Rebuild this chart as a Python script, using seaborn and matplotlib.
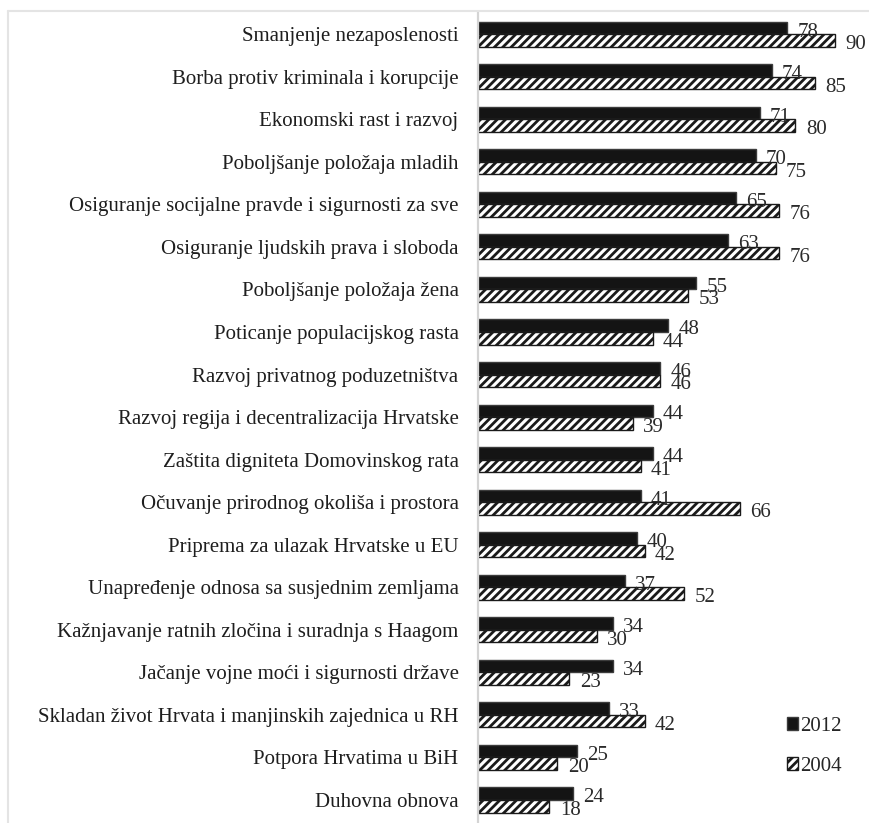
import matplotlib
matplotlib.use("Agg")
import matplotlib.pyplot as plt
from matplotlib.lines import Line2D
from matplotlib.patches import Patch
import pandas as pd
import seaborn as sns

# categories and values
categories = [
    "Smanjenje nezaposlenosti",
    "Borba protiv kriminala i korupcije",
    "Ekonomski rast i razvoj",
    "Poboljšanje položaja mladih",
    "Osiguranje socijalne pravde i sigurnosti za sve",
    "Osiguranje ljudskih prava i sloboda",
    "Poboljšanje položaja žena",
    "Poticanje populacijskog rasta",
    "Razvoj privatnog poduzetništva",
    "Razvoj regija i decentralizacija Hrvatske",
    "Zaštita digniteta Domovinskog rata",
    "Očuvanje prirodnog okoliša i prostora",
    "Priprema za ulazak Hrvatske u EU",
    "Unapređenje odnosa sa susjednim zemljama",
    "Kažnjavanje ratnih zločina i suradnja s Haagom",
    "Jačanje vojne moći i sigurnosti države",
    "Skladan život Hrvata i manjinskih zajednica u RH",
    "Potpora Hrvatima u BiH",
    "Duhovna obnova",
]
values_2012 = [78, 74, 71, 70, 65, 63, 55, 48, 46, 44, 44, 41, 40, 37, 34, 34, 33, 25, 24]
values_2004 = [90, 85, 80, 75, 76, 76, 53, 44, 46, 39, 41, 66, 42, 52, 30, 23, 42, 20, 18]
years = ["2012", "2004"]

df = pd.DataFrame({
    "kategorija": categories * 2,
    "vrijednost": values_2012 + values_2004,
    "godina": [years[0]] * len(categories) + [years[1]] * len(categories),
})

sns.set_style("white")
plt.rcParams["font.family"] = ["Liberation Serif", "DejaVu Serif"]
plt.rcParams["hatch.linewidth"] = 2.0

fig = plt.figure(figsize=(8.69, 8.23), dpi=100)
ax = fig.add_axes([478 / 869, 0.0, 1 - 478 / 869, 1 - 12 / 823])

sns.barplot(
    data=df, y="kategorija", x="vrijednost", hue="godina",
    hue_order=years, orient="h", width=0.59,
    palette={"2012": "#141414", "2004": "white"},
    edgecolor="#3c3c3c", linewidth=1.0, legend=False, ax=ax,
)

# hatch the 2004 bars
for bar in ax.containers[1]:
    bar.set_hatch("////")
    bar.set_edgecolor("#1a1a1a")

# value labels at bar ends
for cont, vals in zip(ax.containers, [values_2012, values_2004]):
    for bar, v in zip(cont, vals):
        ax.annotate(
            str(v), (bar.get_width(), bar.get_y() + bar.get_height() / 2),
            xytext=(7.5, -3.0), textcoords="offset points",
            va="center", ha="left", fontsize=15, color="#2a2a2a",
        )

ax.set_xlim(0, (869 - 478) / 3.967)
ax.set_ylim(len(categories) - 0.46, -0.52)
ax.set_xlabel("")
ax.set_ylabel("")
ax.set_xticks([])
ax.tick_params(axis="y", length=0, pad=14, labelsize=15, labelcolor="#1e1e1e")
for side in ["top", "right", "bottom"]:
    ax.spines[side].set_visible(False)
ax.spines["left"].set_color("#d4d4d4")
ax.spines["left"].set_linewidth(1.6)

handles = [
    Patch(facecolor="#141414", edgecolor="#3c3c3c", label="2012"),
    Patch(facecolor="white", edgecolor="#1a1a1a", hatch="////", label="2004"),
]
ax.legend(
    handles=handles, loc="upper left", bbox_to_anchor=(787 / 869, 1 - 717 / 823),
    bbox_transform=fig.transFigure, frameon=False, fontsize=15,
    handlelength=0.55, handleheight=0.55, handletextpad=0.1, labelspacing=1.0,
    borderaxespad=0, borderpad=0,
)

# light frame around the picture (left and top edges)
fig.add_artist(Line2D([8 / 869, 8 / 869], [0, 1 - 11 / 823], transform=fig.transFigure,
                      color="#e4e4e4", linewidth=1.5))
fig.add_artist(Line2D([8 / 869, 1], [1 - 11 / 823, 1 - 11 / 823], transform=fig.transFigure,
                      color="#e4e4e4", linewidth=1.5))

fig.savefig("out.png", dpi=100, facecolor="white")
plt.close(fig)
